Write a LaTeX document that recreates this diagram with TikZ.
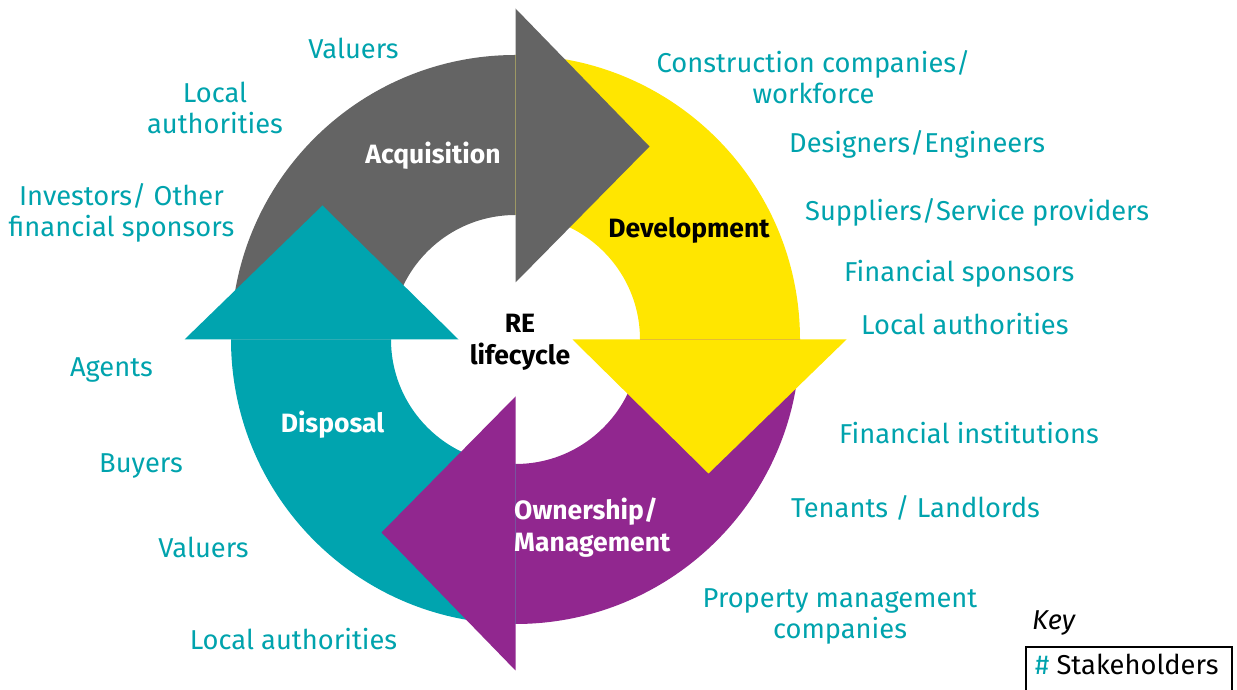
\documentclass[tikz,border=0pt]{standalone}
\usepackage{fontspec}
\setmainfont{Fira Sans}
\definecolor{eygrey}{HTML}{646464}
\definecolor{eyyellow}{HTML}{FFE600}
\definecolor{eypurple}{HTML}{91278F}
\definecolor{eyteal}{HTML}{00A4AF}
\definecolor{eytext}{HTML}{00A3AD}
\tikzset{
  holder/.style={text=eytext, font=\fontsize{27.3}{31}\selectfont, inner sep=0pt, align=center},
  phase/.style={font=\fontsize{26.5}{32}\selectfont\bfseries, inner sep=0pt},
}
\begin{document}
\begin{tikzpicture}[x=1pt,y=1pt]
\useasboundingbox (0,0) rectangle (1237,690);
\clip (0,0) rectangle (1237,690);
\begin{scope}[shift={(515.5,350.5)}]
\fill[eygrey] (90:124.5) arc [start angle=90, end angle=180, radius=124.5] -- (180:284.5) arc [start angle=180, end angle=90, radius=284.5] -- cycle;
\fill[eyyellow] (0:124.5) arc [start angle=0, end angle=90, radius=124.5] -- (90:284.5) arc [start angle=90, end angle=0, radius=284.5] -- cycle;
\fill[eypurple] (270:124.5) arc [start angle=270, end angle=360, radius=124.5] -- (360:284.5) arc [start angle=360, end angle=270, radius=284.5] -- cycle;
\fill[eyteal] (180:124.5) arc [start angle=180, end angle=270, radius=124.5] -- (270:284.5) arc [start angle=270, end angle=180, radius=284.5] -- cycle;
\fill[eygrey] (0,57) -- (134,193) -- (0,331) -- cycle;
\fill[eyyellow] (57,0) -- (193,-134) -- (331,0) -- cycle;
\fill[eypurple] (0,-57) -- (-134,-193) -- (0,-331) -- cycle;
\fill[eyteal] (-57,0) -- (-193,134) -- (-331,0) -- cycle;
\end{scope}
\node[phase, text=white, anchor=base] (acq) at (433,526) {Acquisition};
\node[phase, anchor=base] (dev) at (689,452) {Development};
\node[phase, text=white, anchor=west, align=left] (own) at (514,162) {Ownership/\\Management};
\node[phase, text=white, anchor=base] (disp) at (332.5,257) {Disposal};
\node[phase, align=center] (centre) at (520,348) {RE\\lifecycle};
\node[holder, anchor=base] (valuersA) at (353.5,631) {Valuers};
\node[holder] (localA) at (215,582) {Local\\authorities};
\node[holder] (investors) at (121.5,477.5) {Investors/ Other\\financial sponsors};
\node[holder, anchor=base] (agents) at (111.5,313) {Agents};
\node[holder, anchor=base] (buyers) at (141,217) {Buyers};
\node[holder, anchor=base] (valuersD) at (203.5,132) {Valuers};
\node[holder, anchor=base] (localD) at (293.5,40) {Local authorities};
\node[holder] (construction) at (813.5,612.5) {Construction companies/\\workforce};
\node[holder, anchor=base west] (designers) at (789,537) {Designers/Engineers};
\node[holder, anchor=base west] (suppliers) at (805,469) {Suppliers/Service providers};
\node[holder, anchor=base west] (finsponsors) at (844,408) {Financial sponsors};
\node[holder, anchor=base west] (localDev) at (861,355) {Local authorities};
\node[holder, anchor=base west] (fininst) at (839,246) {Financial institutions};
\node[holder, anchor=base west] (tenants) at (791,172) {Tenants / Landlords};
\node[holder] (propmgmt) at (840,73) {Property management\\companies};
\node[holder, text=black, anchor=base west, font=\fontsize{27.3}{31}\selectfont\itshape] (key) at (1032,60) {Key};
\draw[line width=1.5pt] (1026,-5) rectangle (1232,43);
\node[holder, text=black, anchor=base west] (stake) at (1035,15) {\textcolor{eytext}{\#} Stakeholders};
\end{tikzpicture}
\end{document}
